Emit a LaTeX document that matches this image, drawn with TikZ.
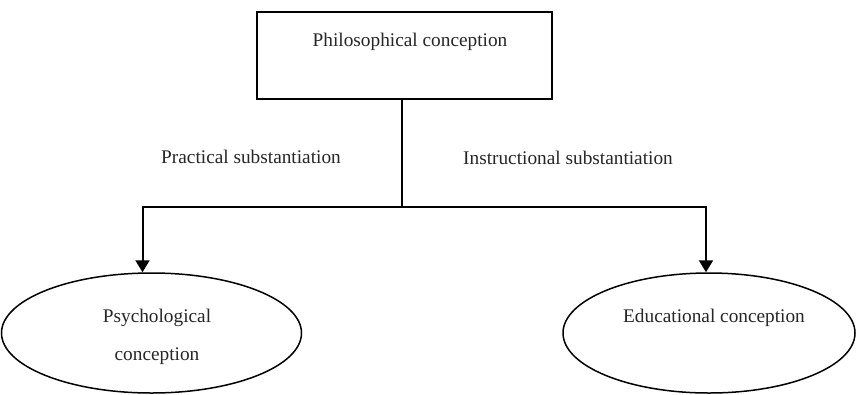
\documentclass[tikz,border=0pt]{standalone}
\usepackage{fontspec}
\setmainfont{Liberation Serif}
\usetikzlibrary{shapes.geometric,arrows.meta}
\begin{document}
\begin{tikzpicture}[x=1pt,y=-1pt,
  txt/.style={font=\fontsize{19.3}{22}\selectfont, inner sep=0pt, text=black!85},
  boxst/.style={draw, line width=2pt, inner sep=0pt},
  ellst/.style={draw, ellipse, line width=1.5pt, inner sep=0pt},
  link/.style={line width=2pt},
  arr/.style={line width=2pt, -{Triangle[length=12pt,width=14pt]}}]
\useasboundingbox (0,0) rectangle (856,394);
\node[boxst, minimum width=295pt, minimum height=87pt] (phil) at (404.5,55.5) {};
\node[txt] (philt) at (410,42) {Philosophical conception};
\node[ellst, minimum width=300pt, minimum height=120pt] (psy) at (151.5,333) {};
\node[txt, align=center] (psyt) at (157,337) {Psychological\\[16pt]conception};
\node[ellst, minimum width=292pt, minimum height=120pt] (edu) at (709,333) {};
\node[txt] (edut) at (714,318) {Educational conception};
\node[txt] (prac) at (251,157) {Practical substantiation};
\node[txt] (instr) at (568,158) {Instructional substantiation};
\coordinate (j) at (402,207);
\draw[link] (phil.south -| j) -- (j);
\draw[arr] (j) -| ([xshift=-9pt]psy.north);
\draw[arr] (j) -| ([xshift=-3pt]edu.north);
\end{tikzpicture}
\end{document}
